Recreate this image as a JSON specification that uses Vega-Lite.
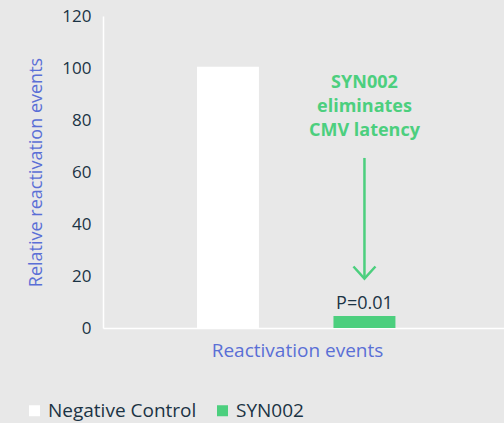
{
  "$schema": "https://vega.github.io/schema/vega-lite/v6.json",
  "width": 401,
  "height": 312,
  "autosize": {"type": "none"},
  "padding": {"left": 103, "top": 16, "right": 0, "bottom": 95},
  "background": "#e8e8e8",
  "config": {
    "view": {"stroke": null},
    "font": "Open Sans",
    "axis": {"labelFont": "Open Sans", "titleFont": "Open Sans"},
    "legend": {"labelFont": "Open Sans"}
  },
  "datasets": {
    "bars": [
      {"group": "Negative Control", "value": 100.5},
      {"group": "SYN002", "value": 4.6}
    ],
    "notes": [
      {"group": "SYN002", "label": "SYN002\neliminates\nCMV latency", "y": 94.2}
    ],
    "pval": [
      {"group": "SYN002", "label": "P=0.01", "y": 9.2}
    ],
    "arrow": [
      {"group": "SYN002", "y1": 65.4, "y2": 19.0}
    ]
  },
  "encoding": {
    "x": {
      "field": "group",
      "type": "nominal",
      "sort": ["Negative Control", "SYN002"],
      "scale": {"domain": ["Negative Control", "SYN002"], "paddingInner": 0.546, "paddingOuter": 0.742, "align": 0.464},
      "axis": {
        "title": "Reactivation events",
        "titleColor": "#5a6fd6",
        "titleFontSize": 19,
        "titleFontWeight": "normal",
        "titlePadding": 13,
        "titleX": 194,
        "labels": false,
        "ticks": false,
        "domainColor": "#ffffff",
        "domainWidth": 1.5
      }
    }
  },
  "layer": [
    {
      "data": {"name": "bars"},
      "mark": {"type": "bar"},
      "encoding": {
        "y": {
          "field": "value",
          "type": "quantitative",
          "scale": {"domain": [0, 120], "nice": false},
          "axis": {
            "title": "Relative reactivation events",
            "titleColor": "#5a6fd6",
            "titleFontSize": 18,
            "titleFontWeight": "normal",
            "titlePadding": 16,
            "values": [0, 20, 40, 60, 80, 100, 120],
            "labelColor": "#1b3344",
            "labelFontSize": 17,
            "labelPadding": 12,
            "ticks": false,
            "grid": false,
            "domainColor": "#ffffff",
            "domainWidth": 1.5
          }
        },
        "color": {
          "field": "group",
          "type": "nominal",
          "scale": {"domain": ["Negative Control", "SYN002"], "range": ["#ffffff", "#4ccf7e"]},
          "legend": {
            "title": null,
            "orient": "none",
            "direction": "horizontal",
            "legendX": -78,
            "legendY": 385,
            "padding": 0,
            "symbolType": "square",
            "symbolSize": 121,
            "symbolStrokeWidth": 0,
            "symbolOpacity": 1,
            "labelFontSize": 19,
            "labelColor": "#1b3344",
            "labelOffset": 4,
            "columnPadding": 16
          }
        }
      }
    },
    {
      "data": {"name": "arrow"},
      "mark": {"type": "rule", "color": "#4ccf7e", "strokeWidth": 2.5},
      "encoding": {
        "y": {"field": "y1", "type": "quantitative"},
        "y2": {"field": "y2"}
      }
    },
    {
      "data": {"name": "arrow"},
      "mark": {"type": "point", "shape": "M-1,-1.1L0,0L1,-1.1", "size": 484, "filled": false, "stroke": "#4ccf7e", "strokeWidth": 2.5, "opacity": 1},
      "encoding": {
        "y": {"field": "y2", "type": "quantitative"}
      }
    },
    {
      "data": {"name": "notes"},
      "mark": {"type": "text", "color": "#4ccf7e", "fontSize": 18, "fontWeight": "bold", "lineBreak": "\n", "lineHeight": 24, "baseline": "middle", "align": "center"},
      "encoding": {
        "y": {"field": "y", "type": "quantitative"},
        "text": {"field": "label"}
      }
    },
    {
      "data": {"name": "pval"},
      "mark": {"type": "text", "color": "#1b3344", "fontSize": 18, "baseline": "middle", "align": "center"},
      "encoding": {
        "y": {"field": "y", "type": "quantitative"},
        "text": {"field": "label"}
      }
    }
  ]
}
